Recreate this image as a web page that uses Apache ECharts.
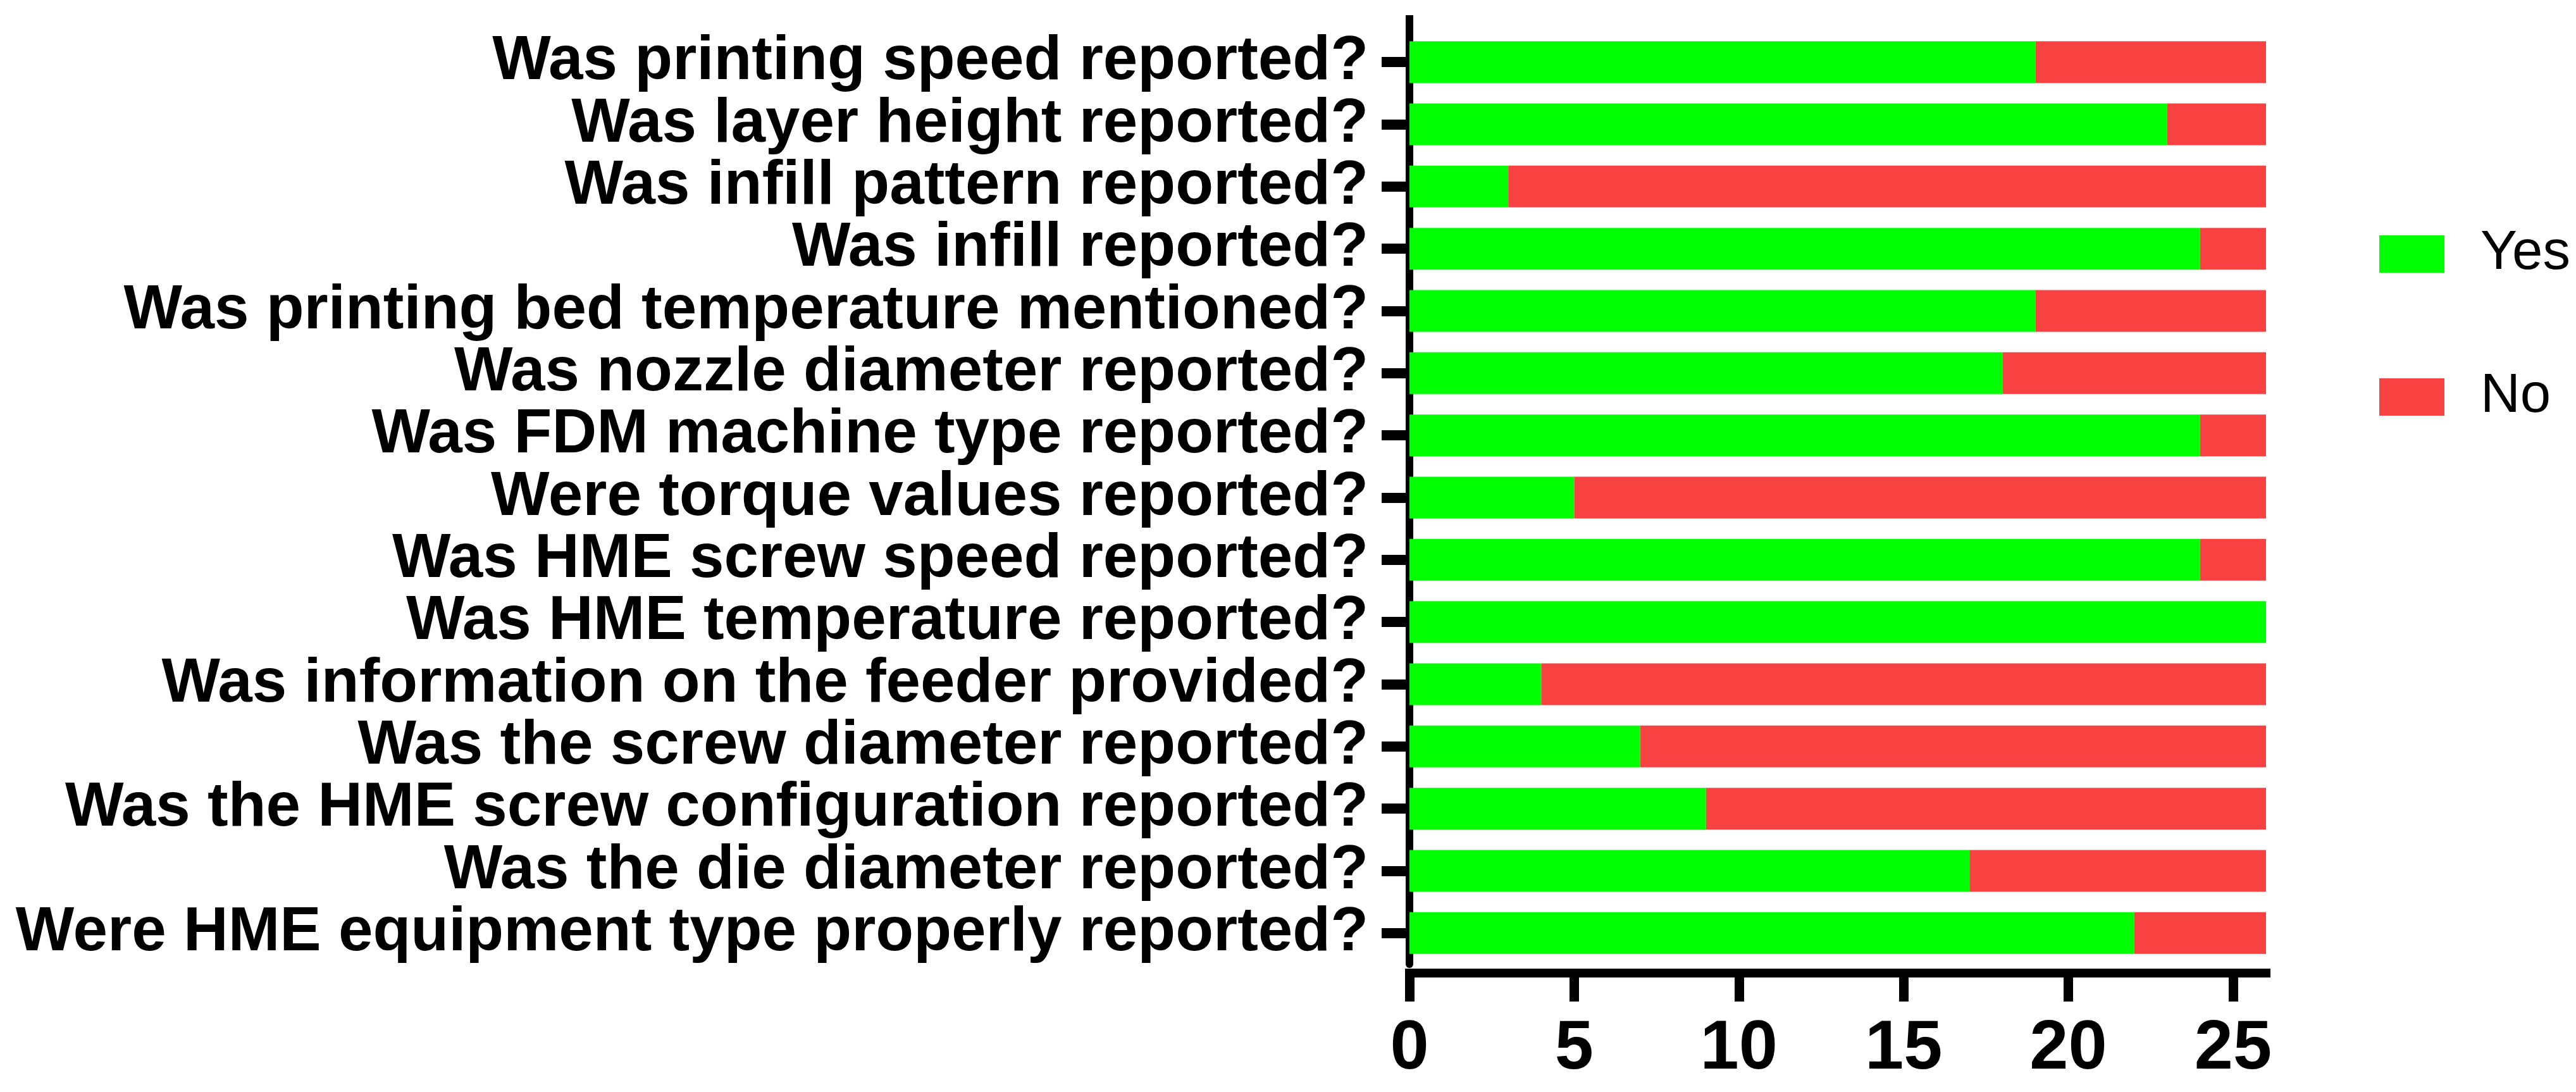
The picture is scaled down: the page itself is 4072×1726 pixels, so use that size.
<!DOCTYPE html>
<html>
<head>
<meta charset="utf-8">
<title>Reporting of HME / FDM parameters</title>
<script src="https://cdn.jsdelivr.net/npm/echarts@6/dist/echarts.min.js"></script>
<style>
    html, body { margin: 0; padding: 0; background: #fff; }
    #chart { width: 4072px; height: 1726px; }
</style>
</head>
<body>
<div id="chart"></div>
<script>
// questions, top to bottom
var questions = [
    'Was printing speed reported?',
    'Was layer height reported?',
    'Was infill pattern reported?',
    'Was infill reported?',
    'Was printing bed temperature mentioned?',
    'Was nozzle diameter reported?',
    'Was FDM machine type reported?',
    'Were torque values reported?',
    'Was HME screw speed reported?',
    'Was HME temperature reported?',
    'Was information on the feeder provided?',
    'Was the screw diameter reported?',
    'Was the HME screw configuration reported?',
    'Was the die diameter reported?',
    'Were HME equipment type properly reported?'
];
var yesCounts = [19, 23, 3, 24, 19, 18, 24, 5, 24, 26, 4, 7, 9, 17, 22];
var noCounts = [7, 3, 23, 2, 7, 8, 2, 21, 2, 0, 22, 19, 17, 9, 4];
var xTicks = [0, 5, 10, 15, 20, 25];

var FONT = '"Liberation Sans", Arial, Helvetica, sans-serif';
var GRID = { left: 2228, right: 490, top: 49, bottom: 202 };

var chart = echarts.init(document.getElementById('chart'), null, { renderer: 'canvas' });

chart.setOption({
    backgroundColor: '#ffffff',
    animation: false,
    textStyle: { fontFamily: FONT },
    grid: GRID,
    legend: {
        orient: 'vertical',
        left: 3756,
        top: 353,
        itemWidth: 103,
        itemHeight: 59,
        itemGap: 139,
        icon: 'rect',
        textStyle: {
            fontFamily: FONT,
            fontSize: 87,
            color: '#000',
            padding: [0, 0, 0, 52]
        },
        data: ['Yes', 'No']
    },
    xAxis: {
        type: 'value',
        min: 0,
        max: 26,
        interval: 5,
        offset: 14,
        splitLine: { show: false },
        axisLine: { show: true, lineStyle: { color: '#000', width: 14, cap: 'square' } },
        axisTick: {
            show: true,
            length: 45,
            customValues: xTicks,
            lineStyle: { color: '#000', width: 15 }
        },
        axisLabel: {
            customValues: xTicks,
            margin: 66,
            fontFamily: FONT,
            fontSize: 110,
            fontWeight: 'bold',
            color: '#000'
        }
    },
    yAxis: {
        type: 'category',
        inverse: true,
        data: questions,
        axisLine: { show: true, lineStyle: { color: '#000', width: 12 } },
        axisTick: {
            show: true,
            alignWithLabel: true,
            interval: 0,
            length: 44,
            lineStyle: { color: '#000', width: 16 }
        },
        axisLabel: {
            interval: 0,
            hideOverlap: false,
            margin: 65,
            fontFamily: FONT,
            fontSize: 98,
            fontWeight: 'bold',
            color: '#000'
        }
    },
    series: [
        {
            name: 'Yes',
            type: 'bar',
            stack: 'total',
            barWidth: 66,
            itemStyle: { color: '#00FF00' },
            data: yesCounts
        },
        {
            name: 'No',
            type: 'bar',
            stack: 'total',
            barWidth: 66,
            itemStyle: { color: '#F84141' },
            data: noCounts
        }
    ],
    // the y axis line runs a bit above the first band, as in the original
    graphic: [{
        type: 'rect',
        shape: { x: GRID.left - 6, y: 24, width: 12, height: GRID.top - 24 + 2 },
        style: { fill: '#000' },
        silent: true
    }]
});
</script>
</body>
</html>
